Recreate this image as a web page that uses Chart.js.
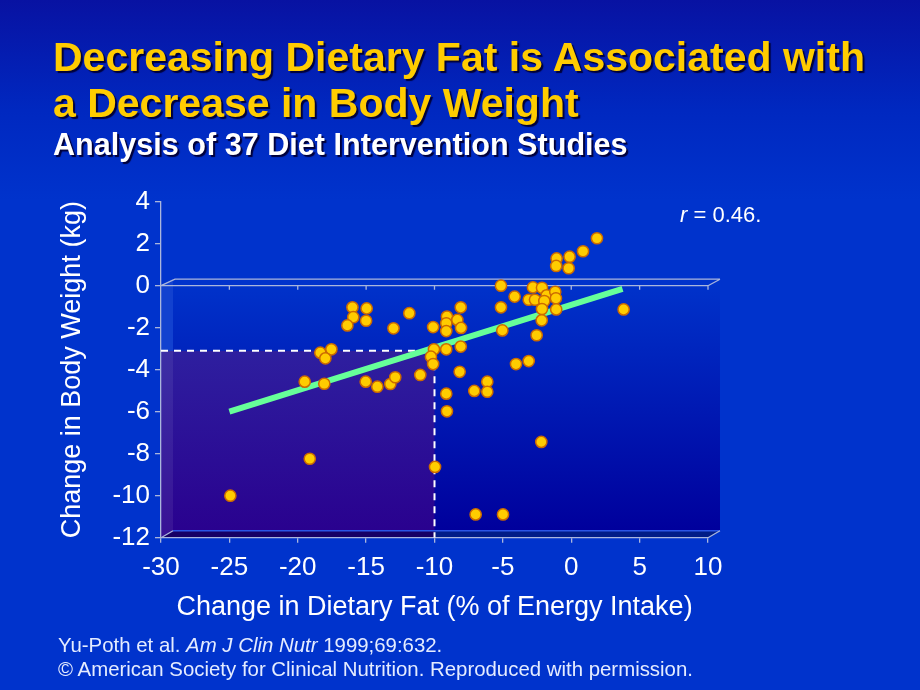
<!DOCTYPE html>
<html><head><meta charset="utf-8">
<script src="https://cdn.jsdelivr.net/npm/chart.js@4.4.1/dist/chart.umd.min.js"></script>
<style>
html,body{margin:0;padding:0;}
body{width:920px;height:690px;overflow:hidden;position:relative;
 background:linear-gradient(to bottom,#0812a2 0px,#0028c0 110px,#0033cc 200px,#0033cc 690px);
 font-family:"Liberation Sans",Arial,sans-serif;}
canvas{position:absolute;left:0;top:0;}
.t{position:absolute;white-space:nowrap;margin:0;}
#title{left:53px;top:34px;color:#ffcc00;font-weight:bold;font-size:41px;line-height:46px;text-shadow:2px 2px 1px #00003a;}
#sub{left:53px;top:129px;color:#ffffff;font-weight:bold;font-size:30.6px;line-height:30px;text-shadow:2px 2px 1px #00003a;}
#rlab{left:680px;top:202px;color:#ffffff;font-size:22px;line-height:26px;}
#foot{left:58px;top:633px;color:#e4ecff;font-size:20.4px;line-height:24px;}
</style></head>
<body>
<canvas id="c" width="920" height="690"></canvas>
<div class="t" id="title">Decreasing Dietary Fat is Associated with<br>a Decrease in Body Weight</div>
<div class="t" id="sub">Analysis of 37 Diet Intervention Studies</div>
<div class="t" id="rlab"><i>r</i> = 0.46.</div>
<div class="t" id="foot">Yu-Poth et al. <i>Am J Clin Nutr</i> 1999;69:632.<br>© American Society for Clinical Nutrition. Reproduced with permission.</div>
<script>
// Change in dietary fat (% of energy intake)
const fatChange = [
 -16.0,-14.96,-15.94,-15.0,-16.37,-11.84,-13.0,-10.1,-18.35,-17.54,-17.98,-10.04,-10.26,-10.1,
 1.88,0.86,-1.07,-0.12,-1.1,-0.19,-5.14,-2.8,-2.14,-4.14,-3.11,-2.65,-1.8,-1.17,-1.12,-1.97,
 -5.14,-2.14,-1.1,3.83,-8.08,-9.09,-8.33,-9.14,-8.06,-9.14,-5.04,-2.16,-2.53,-8.08,-9.14,-4.04,-3.11,
 -11.04,-8.16,-6.14,-7.09,-6.14,-9.14,-9.09,-2.19,-9.96,-6.99,-4.99,
 -19.49,-18.06,-15.03,-14.18,-13.23,-12.87,-19.12,-24.93
];
// Change in body weight (kg)
const weightChange = [
 -1.03,-1.08,-1.5,-1.67,-1.89,-1.31,-2.03,-1.97,-3.19,-3.03,-3.46,-3.03,-3.38,-3.73,
 2.26,1.64,1.3,1.38,0.94,0.83,0.0,-0.08,-0.1,-0.52,-0.67,-0.67,-0.46,-0.29,-0.6,-0.73,
 -1.03,-1.11,-1.13,-1.13,-1.03,-1.47,-1.63,-1.79,-2.01,-2.16,-2.13,-1.65,-2.36,-2.9,-3.03,-3.73,-3.59,
 -4.25,-4.1,-4.57,-5.01,-5.05,-5.14,-5.98,-7.44,-8.63,-10.89,-10.89,
 -4.57,-4.67,-4.57,-4.81,-4.68,-4.36,-8.24,-10.0
];
// Regression line end points
const fitX = [-25, 3.75];
const fitY = [-6.0, -0.15];
// Reference guide (dashed): -10 % fat -> about -3.1 kg
const guideX = [-30, -10, -10];
const guideY = [-3.1, -3.1, -12];
// Axis ranges / ticks
const xMin = -30, xMax = 10, xStep = 5;
const yMin = -12, yMax = 4, yStep = 2;

const AXIS = '#aab6dc';
const pts = fatChange.map((x,i)=>({x, y: weightChange[i]}));
const fit = fitX.map((x,i)=>({x, y: fitY[i]}));
const guide = guideX.map((x,i)=>({x, y: guideY[i]}));

const deco = {
 id:'deco',
 beforeDraw(chart){
  const {ctx, scales:{x,y}} = chart;
  const L = x.getPixelForValue(xMin), R = x.getPixelForValue(xMax);
  const Z = y.getPixelForValue(0), B = y.getPixelForValue(yMin);
  const dx = 12, dy = 7;
  ctx.save();
  // back wall
  let g = ctx.createLinearGradient(0, Z, 0, B-dy);
  g.addColorStop(0,'#0032ca'); g.addColorStop(1,'#00009c');
  ctx.fillStyle = g;
  ctx.fillRect(L+dx, Z, R+dx-(L+dx), B-dy-Z);
  // purple highlighted region
  const gx = x.getPixelForValue(guideX[1]), gy = y.getPixelForValue(guideY[0]);
  g = ctx.createLinearGradient(0, gy, 0, B);
  g.addColorStop(0,'#2e1f9f'); g.addColorStop(1,'#29008e');
  ctx.fillStyle = g;
  ctx.fillRect(L, gy, gx-L, B-gy);
  // side wall
  ctx.fillStyle = 'rgba(255,255,255,0.07)';
  ctx.beginPath(); ctx.moveTo(L,Z); ctx.lineTo(L+dx,Z-dy); ctx.lineTo(L+dx,B-dy); ctx.lineTo(L,B); ctx.closePath(); ctx.fill();
  // floor
  ctx.fillStyle = 'rgba(0,0,50,0.45)';
  ctx.beginPath(); ctx.moveTo(L,B); ctx.lineTo(L+dx,B-dy); ctx.lineTo(R+dx,B-dy); ctx.lineTo(R,B); ctx.closePath(); ctx.fill();
  ctx.strokeStyle = '#2a55e6'; ctx.lineWidth = 1.5;
  ctx.beginPath(); ctx.moveTo(L+dx,B-dy); ctx.lineTo(R+dx,B-dy); ctx.stroke();
  // zero plane lines
  ctx.strokeStyle = AXIS; ctx.lineWidth = 1.3;
  ctx.beginPath();
  ctx.moveTo(L,Z); ctx.lineTo(R,Z);
  ctx.moveTo(L,Z); ctx.lineTo(L+dx+2,Z-dy+0.5); ctx.lineTo(R+dx,Z-dy+0.5);
  ctx.moveTo(R,Z); ctx.lineTo(R+dx,Z-dy+0.5);
  ctx.moveTo(L,B); ctx.lineTo(L+dx,B-dy);
  ctx.moveTo(R,B); ctx.lineTo(R+dx,B-dy);
  for(let v=xMin+xStep; v<=xMax; v+=xStep){const p=x.getPixelForValue(v); ctx.moveTo(p,Z); ctx.lineTo(p,Z+4);}
  ctx.stroke();
  ctx.restore();
 }
};

Chart.defaults.font.family = '"Liberation Sans", Arial, sans-serif';
new Chart(document.getElementById('c'), {
 type:'scatter',
 data:{datasets:[
  {type:'scatter', data:pts, order:0, backgroundColor:'#ffcc00', borderColor:'#cc6a00', borderWidth:1.5, pointRadius:5.6, pointHoverRadius:5.6},
  {type:'line', data:fit, order:1, borderColor:'#66ff99', borderWidth:6, pointRadius:0, borderCapStyle:'butt', fill:false},
  {type:'line', data:guide, order:2, borderColor:'#ffffff', borderWidth:2, borderDash:[7,6], pointRadius:0, fill:false}
 ]},
 options:{
  responsive:false, animation:false, devicePixelRatio:1,
  layout:{padding:{left:0, top:201.7, right:212, bottom:0}},
  plugins:{legend:{display:false}, tooltip:{enabled:false}},
  scales:{
   x:{type:'linear', min:xMin, max:xMax,
      ticks:{stepSize:xStep, color:'#ffffff', font:{size:26}, padding:10},
      grid:{drawOnChartArea:false, drawTicks:true, tickLength:5, color:AXIS, lineWidth:1.3},
      border:{color:AXIS, width:1.3},
      title:{display:true, text:'Change in Dietary Fat (% of Energy Intake)', color:'#ffffff', font:{size:27}, padding:{top:0,bottom:66}},
      afterFit(s){ s.height = 152.3; }
   },
   y:{type:'linear', min:yMin, max:yMax,
      ticks:{stepSize:yStep, color:'#ffffff', font:{size:26}, padding:5},
      grid:{drawOnChartArea:false, drawTicks:true, tickLength:6, color:AXIS, lineWidth:1.3},
      border:{color:AXIS, width:1.3},
      title:{display:true, text:'Change in Body Weight (kg)', color:'#ffffff', font:{size:27}, padding:{top:56,bottom:0}},
      afterFit(s){ s.width = 161; }
   }
  }
 },
 plugins:[deco]
});
</script>
</body></html>
